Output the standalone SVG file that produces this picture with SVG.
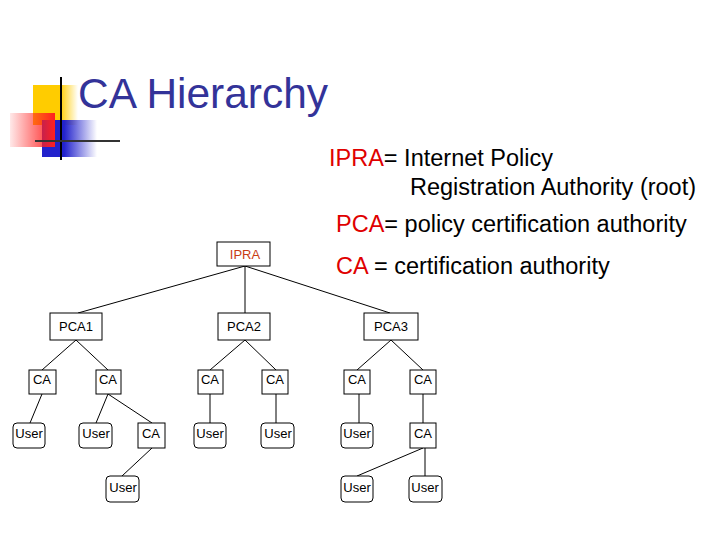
<svg xmlns="http://www.w3.org/2000/svg" width="720" height="540" viewBox="0 0 720 540">
<style>
.b{fill:#fff;stroke:#000;stroke-width:1}
.t{font-family:"Liberation Sans",Arial,sans-serif;font-size:13px;text-anchor:middle;fill:#000}
.h{font-family:"Liberation Sans",Arial,sans-serif;font-size:23.5px;fill:#000}
.r{fill:#e00000}
#conn line{stroke:#000;stroke-width:1}
</style>
<defs>
<linearGradient id="gy" x1="0" x2="1"><stop offset="0" stop-color="#ffcc00"/><stop offset="0.6" stop-color="#ffcc00"/><stop offset="1" stop-color="#ffcc00" stop-opacity="0"/></linearGradient>
<linearGradient id="gr" x1="1" x2="0"><stop offset="0" stop-color="#ff2020"/><stop offset="1" stop-color="#ff2020" stop-opacity="0.1"/></linearGradient>
<linearGradient id="gb" x1="0" x2="1"><stop offset="0" stop-color="#2222cc"/><stop offset="0.4" stop-color="#2222cc"/><stop offset="1" stop-color="#2222cc" stop-opacity="0"/></linearGradient>
</defs>
<rect width="720" height="540" fill="#fff"/>
<g id="logo">
<rect x="33" y="85" width="45" height="40" fill="url(#gy)"/>
<rect x="42" y="120" width="55" height="37" fill="url(#gb)"/>
<rect x="10" y="113" width="45" height="34" fill="url(#gr)"/>
<line x1="61" y1="77" x2="61" y2="160" stroke="#000" stroke-width="2"/>
<line x1="35" y1="141" x2="120" y2="141" stroke="#333" stroke-width="2"/>
</g>
<text x="78" y="108" font-family="Liberation Sans,Arial,sans-serif" font-size="42" fill="#333399" textLength="250" lengthAdjust="spacingAndGlyphs">CA Hierarchy</text>
<text class="h" x="329" y="166"><tspan class="r">IPRA</tspan>= Internet Policy</text>
<text class="h" x="410" y="195">Registration Authority (root)</text>
<text class="h" x="336" y="232"><tspan class="r">PCA</tspan>= policy certification authority</text>
<text class="h" x="336" y="274"><tspan class="r">CA</tspan> = certification authority</text>
<g id="conn">
<line x1="245" y1="266" x2="78" y2="313"/><line x1="245" y1="266" x2="245" y2="313"/><line x1="245" y1="266" x2="390" y2="313"/>
<line x1="76" y1="340" x2="42" y2="370"/><line x1="76" y1="340" x2="108" y2="370"/>
<line x1="42" y1="394" x2="30" y2="423"/><line x1="108" y1="394" x2="96" y2="423"/><line x1="108" y1="394" x2="152" y2="423"/>
<line x1="152" y1="448" x2="122" y2="476"/>
<line x1="245" y1="340" x2="210" y2="370"/><line x1="245" y1="340" x2="276" y2="370"/>
<line x1="210" y1="394" x2="210" y2="423"/><line x1="276" y1="394" x2="276" y2="423"/>
<line x1="391" y1="340" x2="357" y2="370"/><line x1="391" y1="340" x2="423" y2="370"/>
<line x1="359" y1="394" x2="359" y2="423"/><line x1="423" y1="394" x2="423" y2="423"/>
<line x1="423" y1="448" x2="357" y2="476"/><line x1="425" y1="448" x2="425" y2="476"/>
</g>
<g id="ipra"><rect class="b" x="217" y="242" width="53" height="24"/><text class="t" x="245" y="259" style="fill:#c83c14">IPRA</text></g>
<g id="pca1"><rect class="b" x="50" y="313" width="52" height="27"/><text class="t" x="76" y="331">PCA1</text></g>
<g id="pca2"><rect class="b" x="218" y="313" width="52" height="27"/><text class="t" x="244" y="331">PCA2</text></g>
<g id="pca3"><rect class="b" x="364" y="313" width="54" height="27"/><text class="t" x="391" y="331">PCA3</text></g>
<g id="ca1"><rect class="b" x="29" y="370" width="27" height="24"/><text class="t" x="42" y="384">CA</text></g>
<g id="ca2"><rect class="b" x="96" y="370" width="25" height="24"/><text class="t" x="108" y="384">CA</text></g>
<g id="ca3"><rect class="b" x="198" y="370" width="25" height="24"/><text class="t" x="210" y="384">CA</text></g>
<g id="ca4"><rect class="b" x="262" y="370" width="26" height="24"/><text class="t" x="275" y="384">CA</text></g>
<g id="ca5"><rect class="b" x="344" y="370" width="26" height="24"/><text class="t" x="357" y="384">CA</text></g>
<g id="ca6"><rect class="b" x="410" y="370" width="26" height="24"/><text class="t" x="423" y="384">CA</text></g>
<g id="u1"><rect class="b" x="13" y="423" width="32" height="25" rx="4"/><text class="t" x="29" y="438">User</text></g>
<g id="u2"><rect class="b" x="79" y="423" width="33" height="25" rx="4"/><text class="t" x="96" y="438">User</text></g>
<g id="ca7"><rect class="b" x="138" y="423" width="27" height="25"/><text class="t" x="151" y="438">CA</text></g>
<g id="u3"><rect class="b" x="194" y="423" width="32" height="25" rx="4"/><text class="t" x="210" y="438">User</text></g>
<g id="u4"><rect class="b" x="261" y="423" width="33" height="25" rx="4"/><text class="t" x="278" y="438">User</text></g>
<g id="u5"><rect class="b" x="341" y="423" width="32" height="25" rx="4"/><text class="t" x="357" y="438">User</text></g>
<g id="ca8"><rect class="b" x="410" y="423" width="26" height="25"/><text class="t" x="423" y="438">CA</text></g>
<g id="u6"><rect class="b" x="106" y="476" width="33" height="26" rx="4"/><text class="t" x="123" y="492">User</text></g>
<g id="u7"><rect class="b" x="341" y="476" width="32" height="26" rx="4"/><text class="t" x="357" y="492">User</text></g>
<g id="u8"><rect class="b" x="409" y="476" width="33" height="26" rx="4"/><text class="t" x="425" y="492">User</text></g>
</svg>
